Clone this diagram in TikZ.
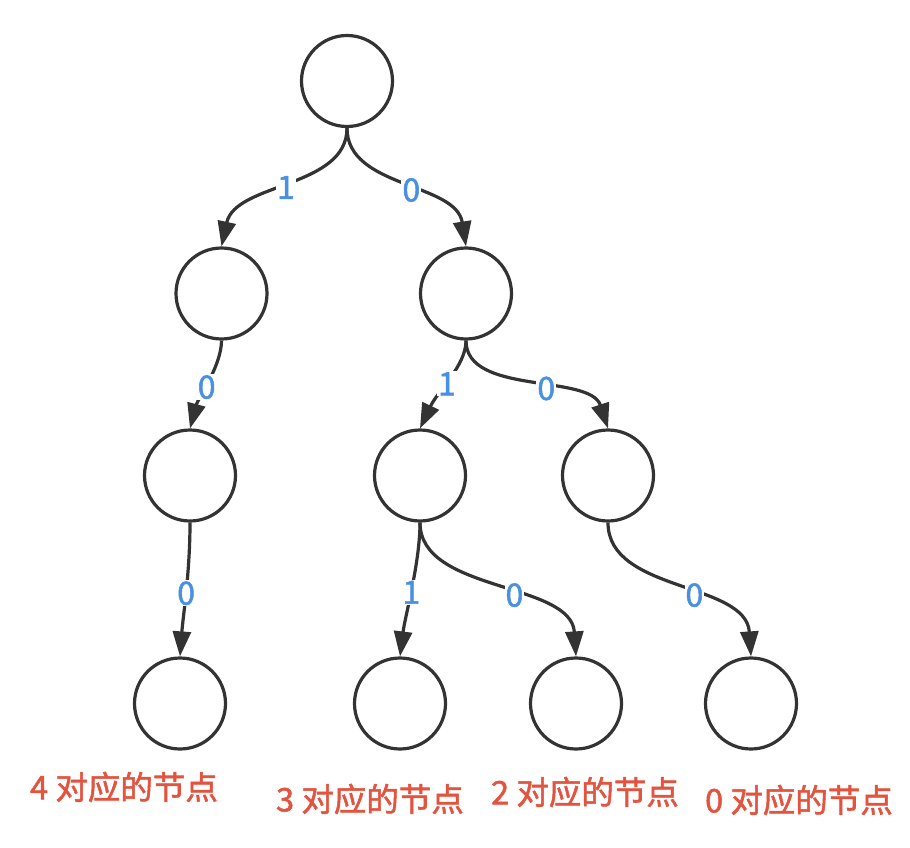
\documentclass[tikz,border=0pt]{standalone}
\usepackage{fontspec}
\setmainfont{Noto Sans CJK SC}
\newfontfamily\labfont{Noto Sans CJK SC}[FakeBold=1.6]
\usetikzlibrary{arrows.meta}
\definecolor{ink}{HTML}{333333}
\definecolor{lbl}{HTML}{4A90E2}
\definecolor{notec}{HTML}{E25440}
\begin{document}
\begin{tikzpicture}[x=1pt,y=-1pt,
  tnode/.style={circle,draw=ink,line width=3.2pt,minimum size=91pt,inner sep=0pt},
  edge/.style={draw=ink,line width=3.2pt,-{Triangle[length=25pt,width=18pt]}},
  bit/.style={fill=white,text=lbl,font=\labfont\fontsize{32}{32}\selectfont,inner sep=1pt},
  note/.style={text=notec,font=\labfont\fontsize{32.5}{33}\selectfont,inner sep=0pt}]
\useasboundingbox (0,0) rectangle (910,848);
\node[tnode] (r) at (347,81) {};
\node[tnode] (a) at (221.5,293.5) {};
\node[tnode] (b) at (466,293.5) {};
\node[tnode] (c) at (190,475.5) {};
\node[tnode] (d) at (420,475.5) {};
\node[tnode] (e) at (608,475.5) {};
\node[tnode] (f) at (180,703.5) {};
\node[tnode] (g) at (400,703.5) {};
\node[tnode] (h) at (576,703.5) {};
\node[tnode] (k) at (751,703.5) {};
\draw[edge] (r.south) .. controls +(0,60) and +(14,-64) .. node[bit,pos=0.52]{1} (a.north);
\draw[edge] (r.south) .. controls +(0,60) and +(-10,-64) .. node[bit,pos=0.55]{0} (b.north);
\draw[edge] (a.south) .. controls +(0,25) and +(8,-30) .. node[bit,pos=0.55]{0} (c.north);
\draw[edge] (b.south) .. controls +(0,25) and +(18,-38) .. node[bit,pos=0.55]{1} (d.north);
\draw[edge] (b.south) .. controls +(0,55) and +(-18,-55) .. node[bit,pos=0.58]{0} (e.north);
\draw[edge] (c.south) .. controls +(0,50) and +(3,-40) .. node[bit,pos=0.5]{0} (f.north);
\draw[edge] (d.south) .. controls +(0,40) and +(5,-40) .. node[bit,pos=0.52]{1} (g.north);
\draw[edge] (d.south) .. controls +(0,70) and +(-5,-75) .. node[bit,pos=0.58]{0} (h.north);
\draw[edge] (e.south) .. controls +(0,70) and +(-5,-75) .. node[bit,pos=0.58]{0} (k.north);
\node[note] (nf) at (124,787) {4 对应的节点};
\node[note] (ng) at (370,799) {3 对应的节点};
\node[note] (nh) at (585,792) {2 对应的节点};
\node[note] (nk) at (799,800) {0 对应的节点};
\end{tikzpicture}
\end{document}
